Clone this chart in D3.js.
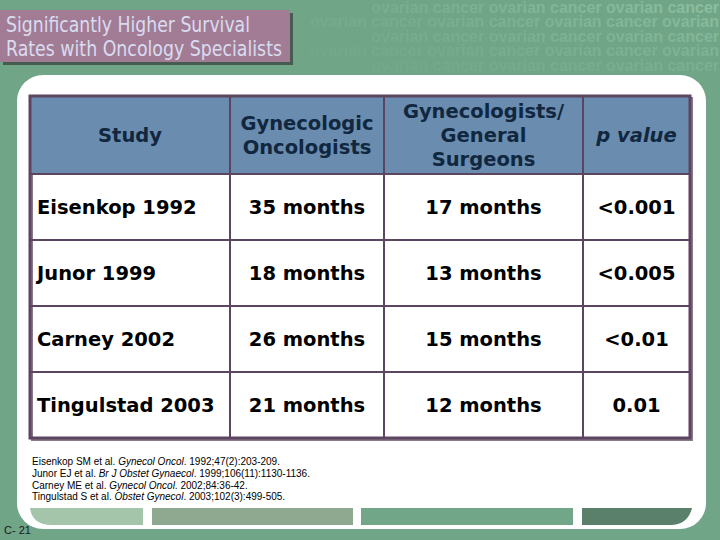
<!DOCTYPE html>
<html>
<head>
<meta charset="utf-8">
<script src="https://cdn.jsdelivr.net/npm/d3@7"></script>
<style>
  body { margin: 0; background: #70a587; }
  svg { display: block; }
</style>
</head>
<body>
<svg id="slide" width="720" height="540"></svg>
<script>
// table content
var titleLines = ["Significantly Higher Survival", "Rates with Oncology Specialists"];
var titleWidths = [244, 276];
var headers = [["Study"], ["Gynecologic", "Oncologists"], ["Gynecologists/", "General", "Surgeons"], ["p value"]];
var studies = ["Eisenkop 1992", "Junor 1999", "Carney 2002", "Tingulstad 2003"];
var gynOncMonths = [35, 18, 26, 21];
var gynGenMonths = [17, 13, 15, 12];
var pValues = ["<0.001", "<0.005", "<0.01", "0.01"];
var references = [
  ["Eisenkop SM et al. ", "Gynecol Oncol", ". 1992;47(2):203-209."],
  ["Junor EJ et al. ", "Br J Obstet Gynaecol", ". 1999;106(11):1130-1136."],
  ["Carney ME et al. ", "Gynecol Oncol", ". 2002;84:36-42."],
  ["Tingulstad S et al. ", "Obstet Gynecol", ". 2003;102(3):499-505."]
];
var slideNumber = "C- 21";

function main() {
  var svg = d3.select("#slide");
  var defs = svg.append("defs");

  // faded "ovarian cancer" watermark top right, only where it shows
  var grad = defs.append("linearGradient").attr("id", "fade")
      .attr("gradientUnits", "userSpaceOnUse")
      .attr("x1", 230).attr("y1", 0).attr("x2", 720).attr("y2", 0);
  grad.append("stop").attr("offset", 0).attr("stop-color", "#9fd0b2").attr("stop-opacity", 0.05);
  grad.append("stop").attr("offset", 0.45).attr("stop-color", "#9fd0b2").attr("stop-opacity", 0.25);
  grad.append("stop").attr("offset", 1).attr("stop-color", "#9fd0b2").attr("stop-opacity", 0.6);
  defs.append("clipPath").attr("id", "wmclip")
    .append("rect").attr("x", 296).attr("y", 0).attr("width", 424).attr("height", 76);

  var wmRows = d3.range(5);
  svg.append("g").attr("clip-path", "url(#wmclip)").selectAll("text")
    .data(wmRows)
    .enter().append("text")
      .attr("x", 719)
      .attr("y", function(d) { return 13 + d * 14.4; })
      .attr("text-anchor", "end")
      .attr("font-family", "Liberation Sans, Arial, sans-serif")
      .attr("font-weight", "bold")
      .attr("font-size", 16)
      .attr("fill", "url(#fade)")
      .attr("opacity", function(d) { return 1 - d * 0.14; })
      .text(function(d) {
        return d % 2 === 0 ? "ovarian cancer ovarian cancer ovarian cancer"
                           : "ovarian cancer ovarian cancer ovarian cancer ovarian";
      });

  // title box
  svg.append("rect").attr("x", 3).attr("y", 13).attr("width", 290).attr("height", 52)
      .attr("fill", "#3c4a42").attr("opacity", 0.8);
  svg.append("rect").attr("x", 0).attr("y", 10).attr("width", 290).attr("height", 52)
      .attr("fill", "#a27c95");
  svg.append("g").selectAll("text")
    .data(titleLines)
    .enter().append("text")
      .attr("x", 6)
      .attr("y", function(d, i) { return 32 + i * 23.5; })
      .attr("font-family", "DejaVu Sans, Verdana, sans-serif")
      .attr("font-size", 21.5)
      .attr("textLength", function(d, i) { return titleWidths[i]; })
      .attr("lengthAdjust", "spacingAndGlyphs")
      .attr("fill", "#d9dcf0")
      .text(function(d) { return d; });

  // white panel
  svg.append("rect").attr("x", 17).attr("y", 75).attr("width", 689).attr("height", 454)
      .attr("rx", 26).attr("ry", 26).attr("fill", "#ffffff");

  // bottom decorative bars
  svg.append("path").attr("d", "M30,508 H143 V525 H52 Q32,525 30,508 Z").attr("fill", "#a5c5ab");
  svg.append("rect").attr("x", 152).attr("y", 508).attr("width", 201).attr("height", 17).attr("fill", "#8ea98f");
  svg.append("rect").attr("x", 361).attr("y", 508).attr("width", 212).attr("height", 17).attr("fill", "#72a689");
  svg.append("path").attr("d", "M582,508 H692 Q688,524 672,525 H582 Z").attr("fill", "#5a7f6a");

  // table
  var colEdges = [30, 230, 384, 583, 690];
  var headTop = 96, headBottom = 174, tableBottom = 438;
  var cols = d3.range(headers.length);
  var colX = d3.scaleOrdinal().domain(cols).range(colEdges.slice(0, -1));
  var colW = function(c) { return colEdges[c + 1] - colEdges[c]; };
  var rowY = d3.scaleBand().domain(studies).range([headBottom, tableBottom]);

  var lineColor = "#5c4560";
  var g = svg.append("g");

  // shadow + header fill
  g.append("rect").attr("x", colEdges[0] + 2).attr("y", headTop + 2)
      .attr("width", colEdges[4] - colEdges[0]).attr("height", tableBottom - headTop)
      .attr("fill", "none").attr("stroke", "#8a7a88").attr("stroke-width", 2);
  g.append("rect").attr("x", colEdges[0]).attr("y", headTop)
      .attr("width", colEdges[4] - colEdges[0]).attr("height", headBottom - headTop)
      .attr("fill", "#6a8cae");

  // header text, one text element per line
  var headLines = [];
  headers.forEach(function(lines, c) {
    lines.forEach(function(t, i) {
      headLines.push({ c: c, text: t,
        y: (headTop + headBottom) / 2 + 7 - (lines.length - 1) * 12 + i * 24 });
    });
  });
  g.selectAll(".head")
    .data(headLines)
    .enter().append("text")
      .attr("class", "head")
      .attr("x", function(d) { return colX(d.c) + colW(d.c) / 2; })
      .attr("y", function(d) { return d.y; })
      .attr("text-anchor", "middle")
      .attr("font-family", "DejaVu Sans, Verdana, sans-serif")
      .attr("font-weight", "bold")
      .attr("font-style", function(d) { return d.c === 3 ? "italic" : "normal"; })
      .attr("font-size", 19.5)
      .attr("fill", "#10273f")
      .text(function(d) { return d.text; });

  // body cells
  var rows = studies.map(function(s, i) {
    return [s, gynOncMonths[i] + " months", gynGenMonths[i] + " months", pValues[i]];
  });
  rows.forEach(function(cells, i) {
    var y = rowY(studies[i]) + rowY.bandwidth() / 2 + 7;
    g.selectAll(".r" + i)
      .data(cells)
      .enter().append("text")
        .attr("class", "r" + i)
        .attr("x", function(d, c) { return c === 0 ? colX(c) + 7 : colX(c) + colW(c) / 2; })
        .attr("y", y)
        .attr("text-anchor", function(d, c) { return c === 0 ? "start" : "middle"; })
        .attr("font-family", "DejaVu Sans, Verdana, sans-serif")
        .attr("font-weight", "bold")
        .attr("font-size", 19.5)
        .attr("fill", "#000000")
        .text(function(d) { return d; });
  });

  // grid lines
  g.selectAll(".hline")
    .data(studies)
    .enter().append("line")
      .attr("x1", colEdges[0]).attr("x2", colEdges[4])
      .attr("y1", function(d) { return rowY(d); })
      .attr("y2", function(d) { return rowY(d); })
      .attr("stroke", lineColor).attr("stroke-width", 2);
  g.selectAll(".vline")
    .data(colEdges.slice(1, -1))
    .enter().append("line")
      .attr("x1", function(d) { return d; }).attr("x2", function(d) { return d; })
      .attr("y1", headTop).attr("y2", tableBottom)
      .attr("stroke", lineColor).attr("stroke-width", 2);
  g.append("rect").attr("x", colEdges[0]).attr("y", headTop)
      .attr("width", colEdges[4] - colEdges[0]).attr("height", tableBottom - headTop)
      .attr("fill", "none").attr("stroke", lineColor).attr("stroke-width", 3);

  // references
  var refs = svg.append("g").selectAll("text")
    .data(references)
    .enter().append("text")
      .attr("x", 32)
      .attr("y", function(d, i) { return 465 + i * 11.8; })
      .attr("font-family", "Liberation Sans, Arial, sans-serif")
      .attr("font-size", 10)
      .attr("fill", "#000000");
  refs.selectAll("tspan")
    .data(function(d) { return d; })
    .enter().append("tspan")
      .attr("font-style", function(d, i) { return i === 1 ? "italic" : "normal"; })
      .text(function(d) { return d; });

  svg.append("text").attr("x", 4).attr("y", 534)
      .attr("font-family", "Liberation Sans, Arial, sans-serif")
      .attr("font-size", 11).attr("fill", "#1a1a1a")
      .text(slideNumber);
}
main();
</script>
</body>
</html>
